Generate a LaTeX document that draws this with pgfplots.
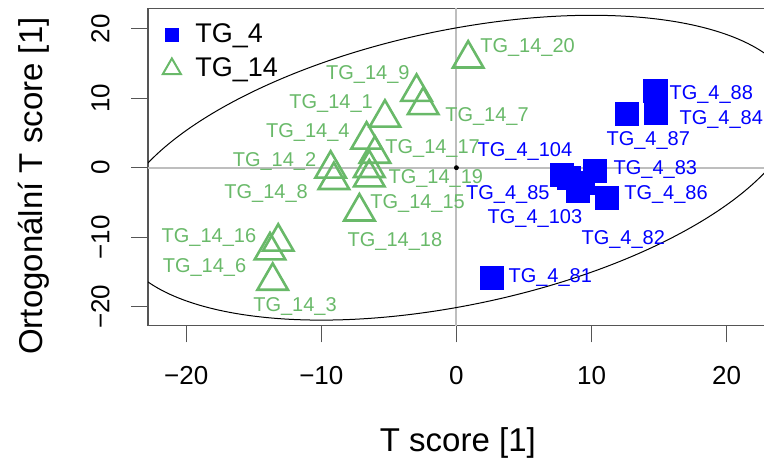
\documentclass[border=0pt]{standalone}
\usepackage{fontspec}
\setmainfont{Liberation Sans}
\usepackage{pgfplots}
\pgfplotsset{compat=1.18}

\definecolor{tggreen}{RGB}{105,185,105}
\definecolor{tgblue}{RGB}{0,0,255}
\definecolor{zeroline}{RGB}{190,190,190}
\definecolor{frame}{RGB}{85,85,85}

% scores of the TG_14 group (predictive, orthogonal)
\pgfplotstableread{
x y
0.87 15.66
-2.95 10.88
-2.46 8.97
-5.29 7.16
-6.65 4.01
-6.03 1.98
-6.45 -0.07
-6.45 -1.42
-9.31 -0.16
-9.07 -1.80
-7.18 -6.32
-13.19 -10.66
-13.80 -11.91
-13.60 -16.28
}\groupfourteen

% scores of the TG_4 group
\pgfplotstableread{
x y
14.72 11.07
14.75 7.93
12.63 7.75
7.81 -1.01
10.23 -0.47
8.30 -1.38
8.99 -3.31
9.31 -2.20
11.12 -4.33
2.63 -15.85
}\groupfour

\tikzset{
  lab14/.style={text=tggreen, font=\fontsize{10}{12}\selectfont, inner sep=0pt},
  lab4/.style={text=tgblue, font=\fontsize{10}{12}\selectfont, inner sep=0pt},
}

\begin{document}
\begin{tikzpicture}
\useasboundingbox (0,0) rectangle (382pt,230.5pt);
\begin{axis}[
  at={(74pt,67.65pt)}, anchor=south west,
  scale only axis, width=308pt, height=158.7pt,
  xmin=-22.83, xmax=22.77, ymin=-22.71, ymax=22.91,
  axis x line*=box, axis y line*=left,
  xtick pos=lower, ytick pos=left,
  axis line style={frame, line width=0.6pt},
  tick style={frame, line width=0.6pt},
  tick align=outside, major tick length=8.3pt,
  xtick={-20,-10,0,10,20}, ytick={-20,-10,0,10,20},
  xticklabels={−20,−10,0,10,20}, yticklabels={−20,−10,0,10,20},
  ticklabel style={font=\fontsize{13}{15}\selectfont},
  xticklabel style={anchor=base, yshift=-21pt},
  yticklabel style={rotate=90, anchor=base, yshift=11pt},
  xlabel={T score [1]}, ylabel={Ortogonální T score [1]},
  label style={font=\fontsize{16.5}{19}\selectfont},
  xlabel style={at={(axis description cs:0.503,-0.395)}, anchor=base},
  ylabel style={at={(axis description cs:-0.1705,0.44)}, anchor=base},
  legend style={at={(axis description cs:0.0186,0.9555)}, anchor=north west,
    draw=none, fill=none, inner sep=0pt, row sep=5pt, column sep=5.8pt,
    font=\fontsize{13.5}{16}\selectfont, nodes={inner sep=0pt}},
  legend cell align=left,
  legend image code/.code={\path[draw=none, fill=none] (-6pt,-6pt) rectangle (6pt,6pt);
    \draw[#1] plot coordinates {(0pt,0pt)};},
]
% zero reference lines
\addplot[forget plot, zeroline, line width=1pt] coordinates {(-30,0) (30,0)};
\addplot[forget plot, zeroline, line width=1pt] coordinates {(0,-30) (0,30)};

% Hotelling ellipse: unit circle mapped through two conjugate semi-axes,
% (25.22, 8.695) and (0, 20.10) in data units, at 6.7544 pt and 3.4787 pt per unit
\draw[black, line width=0.5pt, shift={(axis cs:0,0)},
      cm={170.35,30.25,0,69.92,(0pt,0pt)}]
      (0pt,0pt) circle [radius=1pt];

\addplot[forget plot, only marks, mark=triangle, mark size=8.8pt, tggreen,
         mark options={line width=1.3pt}] table {\groupfourteen};
\addplot[forget plot, only marks, mark=square*, mark size=5.8pt, tgblue,
         mark options={line width=0.2pt}] table {\groupfour};
\addplot[forget plot, only marks, mark=*, mark size=1pt, black] coordinates {(0,0)};

\addlegendimage{only marks, mark=square*, tgblue, mark size=3.2pt}
\addlegendentry{TG\_4}
\addlegendimage{only marks, mark=triangle, tggreen, mark size=5.2pt, mark options={line width=1pt}}
\addlegendentry{TG\_14}

% sample names
\node[lab14, anchor=base west] at (axis cs:1.74,16.59) {TG\_14\_20};
\node[lab14, anchor=base east] at (axis cs:-3.44,12.71) {TG\_14\_9};
\node[lab14, anchor=base east] at (axis cs:-6.16,8.54) {TG\_14\_1};
\node[lab14, anchor=base west] at (axis cs:-0.85,6.61) {TG\_14\_7};
\node[lab14, anchor=base east] at (axis cs:-7.88,4.37) {TG\_14\_4};
\node[lab14, anchor=base west] at (axis cs:-5.29,2.07) {TG\_14\_17};
\node[lab14, anchor=base east] at (axis cs:-10.35,0.14) {TG\_14\_2};
\node[lab14, anchor=base west] at (axis cs:-5.05,-2.24) {TG\_14\_19};
\node[lab14, anchor=base east] at (axis cs:-10.97,-4.40) {TG\_14\_8};
\node[lab14, anchor=base west] at (axis cs:-6.40,-5.84) {TG\_14\_15};
\node[lab14, anchor=base] at (axis cs:-4.55,-11.35) {TG\_14\_18};
\node[lab14, anchor=base east] at (axis cs:-14.79,-10.78) {TG\_14\_16};
\node[lab14, anchor=base east] at (axis cs:-15.53,-15.09) {TG\_14\_6};
\node[lab14, anchor=base] at (axis cs:-11.95,-20.70) {TG\_14\_3};

\node[lab4, anchor=base west] at (axis cs:15.75,9.83) {TG\_4\_88};
\node[lab4, anchor=base west] at (axis cs:16.49,6.28) {TG\_4\_84};
\node[lab4, anchor=base] at (axis cs:14.20,3.26) {TG\_4\_87};
\node[lab4, anchor=base] at (axis cs:5.07,1.58) {TG\_4\_104};
\node[lab4, anchor=base west] at (axis cs:11.61,-0.91) {TG\_4\_83};
\node[lab4, anchor=base east] at (axis cs:6.92,-4.54) {TG\_4\_85};
\node[lab4, anchor=base west] at (axis cs:12.40,-4.54) {TG\_4\_86};
\node[lab4, anchor=base] at (axis cs:5.81,-8.09) {TG\_4\_103};
\node[lab4, anchor=base] at (axis cs:12.35,-10.97) {TG\_4\_82};
\node[lab4, anchor=base west] at (axis cs:3.83,-16.53) {TG\_4\_81};
\end{axis}
\end{tikzpicture}
\end{document}
